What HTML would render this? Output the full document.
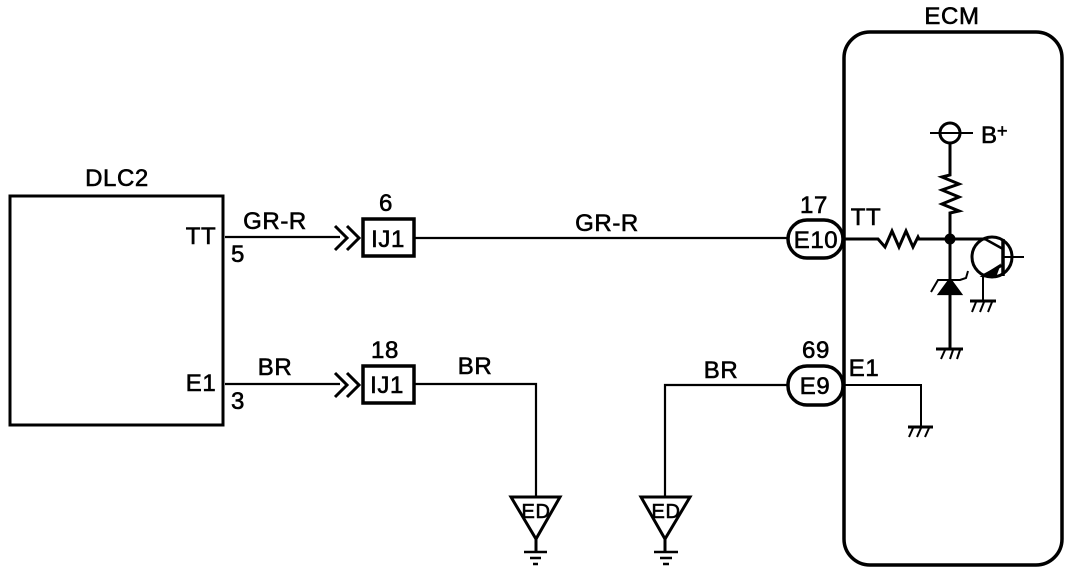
<!DOCTYPE html>
<html><head><meta charset="utf-8"><style>
html,body{margin:0;padding:0;background:#fff;width:1088px;height:572px;overflow:hidden}
svg{display:block}
text{font-family:"Liberation Sans",sans-serif;font-size:24px;fill:#000;stroke:#000;stroke-width:.6;letter-spacing:.6px}
.m{text-anchor:middle}
</style></head><body>
<svg width="1088" height="572" viewBox="0 0 1088 572" fill="none" stroke="#000" stroke-width="2.2">
<!-- boxes -->
<rect x="10" y="196" width="213" height="229" stroke-width="3"/>
<rect x="844" y="32" width="218" height="533" rx="26" ry="26" stroke-width="3.5"/>
<!-- wires -->
<path d="M225 237H340M225 384H340"/>
<path d="M335 226L347 238L335 250M347 226L359 238L347 250" stroke-width="3"/>
<path d="M335 373L347 385L335 397M347 373L359 385L347 397" stroke-width="3"/>
<rect x="363" y="219" width="51" height="37" stroke-width="3.5"/>
<rect x="363" y="366" width="51" height="37" stroke-width="3.5"/>
<path d="M415 238H788M415 384H536V497M665 497V385H788"/>
<rect x="788" y="220" width="55" height="38" rx="19" ry="19" stroke-width="3.5"/>
<rect x="788" y="366" width="55" height="39" rx="19" ry="19" stroke-width="3.5"/>
<!-- ED grounds -->
<path d="M511 497H560L536 539ZM641 497H690L665 539Z" stroke-width="3"/>
<path d="M536 539V552M665 539V552" stroke-width="3"/>
<path d="M524 552H547M530 558H541M533 564H538M654 552H678M660 558H672M663 564H669" stroke-width="2.5"/>
<!-- ECM internals -->
<circle cx="950" cy="133" r="10" stroke-width="3"/>
<path d="M930 133H973" stroke-width="2"/>
<path d="M950 143V175L942 177L959 184L942 190L959 197L942 204L959 211L950 213V239" stroke-width="3"/>
<path d="M845 239H878L885 247L892 231L899 247L906 231L913 247L918 237L919 239H985" stroke-width="3"/>
<circle cx="950" cy="239" r="5.5" fill="#000" stroke="none"/>
<path d="M950 239V348" stroke-width="3"/>
<path d="M939 294H961L950 279Z" fill="#000" stroke="#000"/>
<path d="M931 292L938 280H960L966 278L968 271" stroke-width="2"/>
<path d="M936 349H963" stroke-width="3"/>
<path d="M941 359L945 350M950 359L953 350M957 359L960 350" stroke-width="2"/>
<circle cx="992" cy="257" r="20" stroke-width="3"/>
<path d="M1003 239V276" stroke-width="3.5"/>
<path d="M985 239L1003 249" stroke-width="2.5"/>
<path d="M1003 257H1024" stroke-width="2"/>
<path d="M1003 265L984 275" stroke-width="2.5"/>
<path d="M983 276L999 266L995 277Z" fill="#000"/>
<path d="M983 275V301" stroke-width="2"/>
<path d="M970 301H996" stroke-width="3"/>
<path d="M972 312L976 302M980 312L984 302M988 312L992 302" stroke-width="2"/>
<path d="M845 385H921V426" stroke-width="2"/>
<path d="M908 427H933" stroke-width="3"/>
<path d="M909 437L913 428M917 437L921 428M925 437L929 428" stroke-width="2"/>
<!-- labels -->
<g stroke="none">
<text x="117" y="186" class="m">DLC2</text>
<text x="201" y="244" class="m">TT</text>
<text x="201" y="391" class="m">E1</text>
<text x="238" y="262" class="m">5</text>
<text x="238" y="409" class="m">3</text>
<text x="275" y="229" class="m">GR-R</text>
<text x="275" y="375" class="m">BR</text>
<text x="386" y="211" class="m">6</text>
<text x="385" y="358" class="m">18</text>
<text x="388" y="247" class="m">IJ1</text>
<text x="387" y="393" class="m">IJ1</text>
<text x="607" y="231" class="m">GR-R</text>
<text x="475" y="374" class="m">BR</text>
<text x="721" y="378" class="m">BR</text>
<text x="814" y="213" class="m">17</text>
<text x="816" y="248" class="m">E10</text>
<text x="816" y="358" class="m">69</text>
<text x="815" y="394" class="m">E9</text>
<text x="866" y="225" class="m">TT</text>
<text x="864" y="376" class="m">E1</text>
<text x="952" y="24" class="m">ECM</text>
<text x="981" y="143">B</text>
<text x="997" y="137" style="font-size:18px">+</text>
<text x="536" y="518" class="m" style="font-size:20px">ED</text>
<text x="666" y="518" class="m" style="font-size:20px">ED</text>
</g>
</svg>
</body></html>
